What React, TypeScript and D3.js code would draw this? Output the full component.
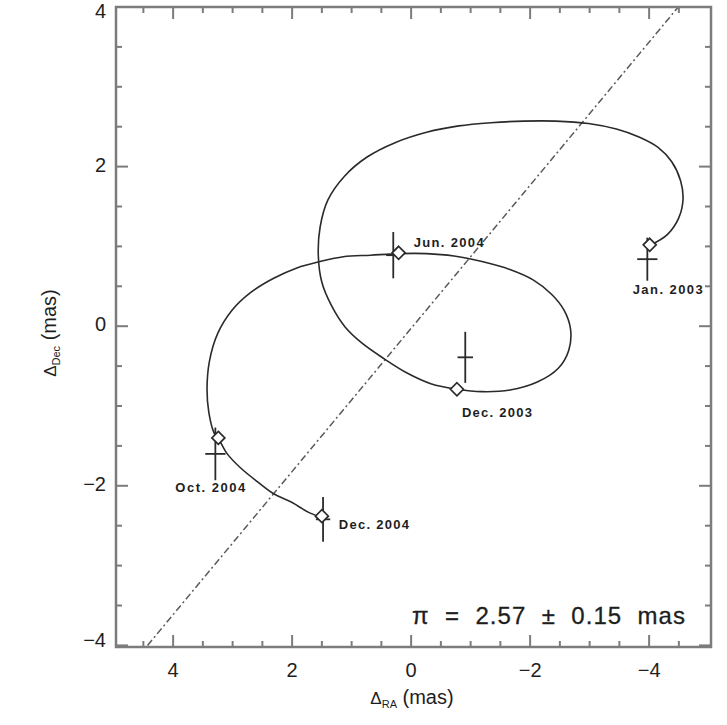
import React, { useRef, useEffect } from 'react';
import * as d3 from 'd3';

// --- DATA ---
const xMajorTicks = [4, 2, 0, -2, -4];
const yMajorTicks = [-4, -2, 0, 2, 4];
const xMinorTicks = [4.5, 3.5, 3, 2.5, 1.5, 1, 0.5, -0.5, -1, -1.5, -2.5, -3, -3.5, -4.5];
const yMinorTicks = [-3.5, -3, -2.5, -1.5, -1, -0.5, 0.5, 1, 1.5, 2.5, 3, 3.5];

// parallax + proper motion model track
const trackRA = [
  -4.01, -4.31, -4.50, -4.57, -4.53, -4.38, -4.15, -3.83, -3.45, -2.98, -2.43, -1.89, -1.34,
  -0.80, -0.26, 0.27, 0.74, 1.12, 1.40, 1.53, 1.56, 1.50, 1.34, 1.11, 0.83, 0.45, 0.06,
  -0.33, -0.78, -1.19, -1.66, -2.12, -2.47, -2.65, -2.68, -2.57, -2.36, -2.05, -1.66, -1.19,
  -0.72, -0.26, 0.20, 0.68, 1.14, 1.53, 1.92, 2.31, 2.70, 3.01, 3.25, 3.39, 3.43, 3.40,
  3.31, 3.23, 3.09, 2.86, 2.58, 2.31, 2.00, 1.73, 1.50,
];
const trackDec = [
  1.01, 1.15, 1.36, 1.59, 1.82, 2.06, 2.24, 2.37, 2.47, 2.54, 2.57, 2.57, 2.55,
  2.51, 2.43, 2.30, 2.12, 1.88, 1.58, 1.24, 0.89, 0.55, 0.26, -0.01, -0.21, -0.41, -0.59,
  -0.72, -0.79, -0.82, -0.80, -0.70, -0.53, -0.30, -0.04, 0.20, 0.40, 0.58, 0.71, 0.81,
  0.88, 0.91, 0.91, 0.89, 0.87, 0.81, 0.73, 0.60, 0.42, 0.20, -0.09, -0.44, -0.79, -1.08,
  -1.34, -1.42, -1.60, -1.78, -1.95, -2.10, -2.21, -2.33, -2.40,
];

const epochLabels = ['Jan. 2003', 'Dec. 2003', 'Jun. 2004', 'Oct. 2004', 'Dec. 2004'];
const modelRA = [-4.01, -0.77, 0.21, 3.24, 1.50];
const modelDec = [1.02, -0.79, 0.92, -1.40, -2.38];
const obsRA = [-3.97, -0.91, 0.30, 3.29, 1.48];
const obsDec = [0.84, -0.39, 0.89, -1.60, -2.42];
const obsErrRA = [0.17, 0.13, 0.12, 0.17, 0.12];
const obsErrDec = [0.27, 0.32, 0.29, 0.33, 0.28];

// dash-dot line ends
const lineRA = [4.43, -4.49];
const lineDec = [-4, 4];

const parallaxText = 'π  =  2.57  ±  0.15  mas';

export default function App() {
  const svgRef = useRef<SVGSVGElement>(null);

  useEffect(() => {
    if (!svgRef.current) return;
    const W = 727, H = 725;
    const left = 116, right = 711, top = 7, bottom = 647;

    const svg = d3.select(svgRef.current);
    svg.selectAll('*').remove();
    svg.attr('width', W).attr('height', H);

    svg.append('rect').attr('width', W).attr('height', H).attr('fill', '#fff');

    const x = d3.scaleLinear().domain([4.96, -5.04]).range([left, right]);
    const y = d3.scaleLinear().domain([-4.02, 4]).range([bottom, top]);

    const ink = '#1e1e1e';
    const frameCol = '#7c7c7c';
    const font = "'Liberation Sans', Arial, sans-serif";

    svg.append('clipPath').attr('id', 'plotclip')
      .append('rect').attr('x', left).attr('y', top).attr('width', right - left).attr('height', bottom - top);

    const plot = svg.append('g').attr('clip-path', 'url(#plotclip)');

    // dash-dot line
    plot.append('line')
      .attr('x1', x(lineRA[0])).attr('y1', y(lineDec[0]))
      .attr('x2', x(lineRA[1])).attr('y2', y(lineDec[1]))
      .attr('stroke', '#5a5a5a').attr('stroke-width', 1.5)
      .attr('stroke-dasharray', '7 3 2 3');

    // model track
    const pts = trackRA.map((r, i) => [r, trackDec[i]] as [number, number]);
    const line = d3.line<[number, number]>()
      .x(d => x(d[0])).y(d => y(d[1]))
      .curve(d3.curveCatmullRom.alpha(0.5));
    plot.append('path').attr('d', line(pts))
      .attr('fill', 'none').attr('stroke', '#2a2a2a').attr('stroke-width', 1.6);

    // observed positions with error bars
    obsRA.forEach((r, i) => {
      const g = plot.append('g').attr('stroke', '#2a2a2a').attr('stroke-width', 1.8);
      g.append('line')
        .attr('x1', x(r - obsErrRA[i])).attr('x2', x(r + obsErrRA[i]))
        .attr('y1', y(obsDec[i])).attr('y2', y(obsDec[i]));
      g.append('line')
        .attr('x1', x(r)).attr('x2', x(r))
        .attr('y1', y(obsDec[i] - obsErrDec[i])).attr('y2', y(obsDec[i] + obsErrDec[i]));
    });

    // model epochs (diamonds)
    const s = 6.5;
    modelRA.forEach((r, i) => {
      const cx = x(r), cy = y(modelDec[i]);
      plot.append('path')
        .attr('d', `M${cx},${cy - s}L${cx + s},${cy}L${cx},${cy + s}L${cx - s},${cy}Z`)
        .attr('fill', '#fff').attr('stroke', '#2a2a2a').attr('stroke-width', 1.7);
    });

    // epoch labels
    const labelOffsets = [[-17, 46], [5, 24], [15, -9], [-43, 51], [17, 9]];
    epochLabels.forEach((t, i) => {
      svg.append('text')
        .attr('x', x(modelRA[i]) + labelOffsets[i][0])
        .attr('y', y(modelDec[i]) + labelOffsets[i][1])
        .attr('dominant-baseline', 'middle')
        .attr('font-family', font).attr('font-weight', 'bold')
        .attr('font-size', 13).attr('fill', ink)
        .attr('textLength', 70).attr('lengthAdjust', 'spacing')
        .text(t);
    });

    // frame
    svg.append('rect')
      .attr('x', left).attr('y', top).attr('width', right - left).attr('height', bottom - top)
      .attr('fill', 'none').attr('stroke', frameCol).attr('stroke-width', 2.5);

    // ticks on all sides
    const tickG = svg.append('g').attr('stroke', frameCol).attr('stroke-width', 2);
    const addXTicks = (vals: number[], len: number) => {
      vals.forEach(v => {
        tickG.append('line').attr('x1', x(v)).attr('x2', x(v)).attr('y1', bottom).attr('y2', bottom - len);
        tickG.append('line').attr('x1', x(v)).attr('x2', x(v)).attr('y1', top).attr('y2', top + len);
      });
    };
    const addYTicks = (vals: number[], len: number) => {
      vals.forEach(v => {
        tickG.append('line').attr('y1', y(v)).attr('y2', y(v)).attr('x1', left).attr('x2', left + len);
        tickG.append('line').attr('y1', y(v)).attr('y2', y(v)).attr('x1', right).attr('x2', right - len);
      });
    };
    addXTicks(xMajorTicks, 12);
    addXTicks(xMinorTicks, 6);
    addYTicks(yMajorTicks, 12);
    addYTicks(yMinorTicks, 6);

    const fmt = (v: number) => (v < 0 ? '\u2212' + Math.abs(v) : String(v));

    // tick labels
    xMajorTicks.forEach(v => {
      svg.append('text')
        .attr('x', x(v)).attr('y', 672)
        .attr('text-anchor', 'middle').attr('dominant-baseline', 'middle')
        .attr('font-family', font).attr('font-size', 20).attr('fill', ink)
        .text(fmt(v));
    });
    yMajorTicks.forEach(v => {
      // keep the end labels inside the picture, as in the reference
      const yy = Math.min(Math.max(y(v), 13), 642);
      svg.append('text')
        .attr('x', 106).attr('y', yy)
        .attr('text-anchor', 'end').attr('dominant-baseline', 'middle')
        .attr('font-family', font).attr('font-size', 20).attr('fill', ink)
        .text(fmt(v));
    });

    // axis titles
    const xt = svg.append('text')
      .attr('x', 412).attr('y', 704)
      .attr('text-anchor', 'middle')
      .attr('font-family', font).attr('font-size', 20).attr('fill', ink);
    xt.append('tspan').attr('font-size', 17).text('Δ');
    xt.append('tspan').attr('font-size', 11).attr('dy', 4).text('RA');
    xt.append('tspan').attr('dy', -4).text(' (mas)');

    const yt = svg.append('text')
      .attr('transform', `translate(56,${(top + bottom) / 2 + 6}) rotate(-90)`)
      .attr('text-anchor', 'middle')
      .attr('font-family', font).attr('font-size', 20).attr('fill', ink);
    yt.append('tspan').attr('font-size', 17).text('Δ');
    yt.append('tspan').attr('font-size', 11).attr('dy', 4).text('Dec');
    yt.append('tspan').attr('dy', -4).text(' (mas)');

    // parallax annotation
    svg.append('text')
      .attr('x', 412).attr('y', 618)
      .attr('dominant-baseline', 'middle')
      .attr('font-family', font).attr('font-size', 24).attr('fill', ink)
      .attr('stroke', ink).attr('stroke-width', 0.3)
      .attr('textLength', 273).attr('lengthAdjust', 'spacing')
      .attr('xml:space', 'preserve')
      .style('white-space', 'pre')
      .text(parallaxText);
  }, []);

  return (
    <div style={{ position: 'absolute', left: 0, top: 0 }}>
      <svg ref={svgRef}></svg>
    </div>
  );
}
